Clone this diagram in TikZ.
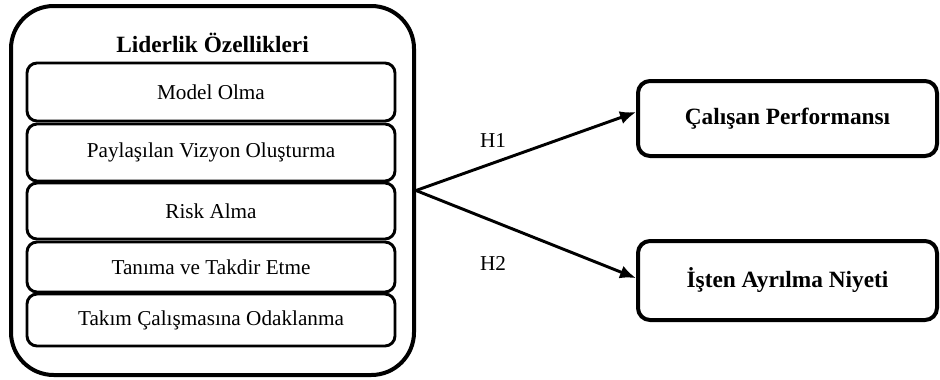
\documentclass[tikz,border=0pt]{standalone}
\usepackage{fontspec}
\setmainfont{Liberation Serif}
\usepackage{tikz}
\usetikzlibrary{arrows.meta}
\usetikzlibrary{positioning}

\begin{document}
\begin{tikzpicture}[x=0.75pt, y=-0.75pt,
		every node/.style={font=\fontsize{15.9}{19}\selectfont},
		group/.style={draw, line width=3pt, rounded corners=32pt, inner sep=0pt},
		item/.style={draw, line width=2.2pt, rounded corners=7.5pt, inner sep=0pt, minimum width=276pt},
		outcome/.style={draw, line width=3pt, rounded corners=9pt, inner sep=0pt, minimum width=224.25pt,
			font=\fontsize{17.5}{21}\selectfont\bfseries},
		hyp/.style={-{Latex[length=12pt, width=10pt]}, line width=2.2pt}]
	\useasboundingbox (0,0) rectangle (940,379);
	% left block with the five dimensions
	\node[group, minimum width=302.25pt, minimum height=276.75pt] (Liderlik) at (212.5,190.5) {};
	\node[font=\fontsize{17.5}{21}\selectfont\bfseries] (Baslik) at (212.5,43) {Liderlik Özellikleri};
	\node[item, minimum height=43.5pt] (Model) at (211,92) {Model Olma};
	\node[item, minimum height=42.75pt] (Vizyon) at (211,152.5) {Paylaşılan Vizyon Oluşturma};
	\node[item, minimum height=42pt] (Risk) at (211,211) {Risk Alma};
	\node[item, minimum height=37.5pt] (Takdir) at (211,267) {Tanıma ve Takdir Etme};
	\node[item, minimum height=39pt] (Takim) at (211,320) {Takım Çalışmasına Odaklanma};
	% outcomes
	\node[outcome, minimum height=56.25pt] (Performans) at (787.5,118.5) {Çalışan Performansı};
	\node[outcome, minimum height=59.25pt] (Ayrilma) at (787.5,280.5) {İşten Ayrılma Niyeti};
	% hypotheses
	\draw[hyp] (Liderlik.east) -- ([yshift=4.8pt]Performans.west);
	\draw[hyp] (Liderlik.east) -- ([yshift=1.8pt]Ayrilma.west);
	\node[] (H1) at (493,140) {H1};
	\node[] (H2) at (493,263) {H2};
\end{tikzpicture}
\end{document}
